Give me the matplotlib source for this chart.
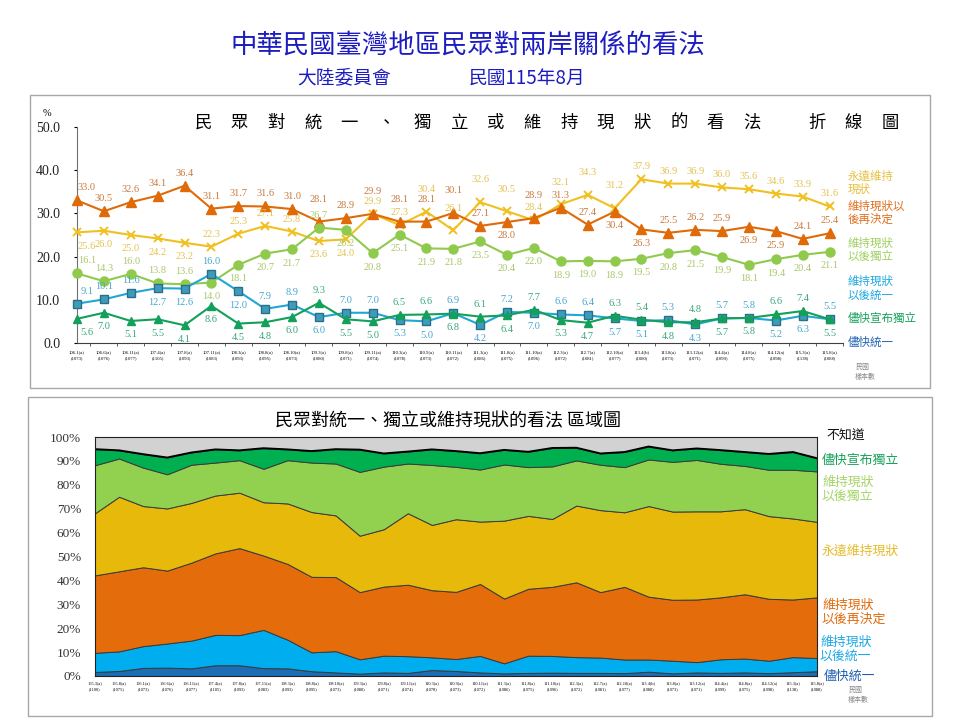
import numpy as np
import matplotlib
matplotlib.use('Agg')
import matplotlib.pyplot as plt
from matplotlib.patches import Rectangle

plt.rcParams['font.family'] = ['Noto Sans CJK TC', 'DejaVu Sans']

# survey rounds used in the line chart
periods = ['106.1(a)', '106.6(a)', '106.11(a)', '107.4(a)', '107.8(a)', '107.11(a)', '108.3(a)',
           '108.8(a)', '108.10(a)', '109.3(a)', '109.8(a)', '109.11(a)', '110.3(a)', '110.9(a)',
           '110.11(a)', '111.3(a)', '111.8(a)', '111.10(a)', '112.3(a)', '112.7(a)', '112.10(a)',
           '113.4(b)', '113.8(a)', '113.12(a)', '114.4(a)', '114.8(a)', '114.12(a)', '115.3(a)',
           '115.8(a)']
samples = [1073, 1076, 1077, 1105, 1093, 1083, 1093, 1095, 1073, 1080, 1071, 1074, 1078, 1073,
           1072, 1086, 1075, 1096, 1072, 1081, 1077, 1080, 1073, 1071, 1099, 1075, 1098, 1138,
           1088]

forever = [25.6, 26.0, 25.0, 24.2, 23.2, 22.3, 25.3, 27.1, 25.8, 23.6, 24.0, 29.9, 27.3, 30.4,
           26.1, 32.6, 30.5, 28.4, 32.1, 34.3, 31.2, 37.9, 36.9, 36.9, 36.0, 35.6, 34.6, 33.9, 31.6]
decide_later = [33.0, 30.5, 32.6, 34.1, 36.4, 31.1, 31.7, 31.6, 31.0, 28.1, 28.9, 29.9, 28.1, 28.1,
                30.1, 27.1, 28.0, 28.9, 31.3, 27.4, 30.4, 26.3, 25.5, 26.2, 25.9, 26.9, 25.9, 24.1, 25.4]
indep_later = [16.1, 14.3, 16.0, 13.8, 13.6, 14.0, 18.1, 20.7, 21.7, 26.7, 26.2, 20.8, 25.1, 21.9,
               21.8, 23.5, 20.4, 22.0, 18.9, 19.0, 18.9, 19.5, 20.8, 21.5, 19.9, 18.1, 19.4, 20.4, 21.1]
unify_later = [9.1, 10.1, 11.6, 12.7, 12.6, 16.0, 12.0, 7.9, 8.9, 6.0, 7.0, 7.0, 5.3, 5.0,
               6.9, 4.2, 7.2, 7.0, 6.6, 6.4, 5.7, 5.1, 5.3, 4.3, 5.7, 5.8, 5.2, 6.3, 5.5]
indep_now = [5.6, 7.0, 5.1, 5.5, 4.1, 8.6, 4.5, 4.8, 6.0, 9.3, 5.5, 5.0, 6.5, 6.6,
             6.8, 6.1, 6.4, 7.7, 5.3, 4.7, 6.3, 5.4, 4.8, 4.8, 5.7, 5.8, 6.6, 7.4, 5.5]
# (not labelled in the line chart)
unify_now = [3.4, 3.5, 3.2, 4.5, 4.5, 3.3, 3.2, 2.0, 1.5, 1.0, 1.5, 1.3, 2.5, 2.1,
             1.5, 1.1, 1.3, 1.4, 1.3, 1.3, 1.2, 1.8, 1.1, 1.5, 1.3, 1.5, 1.2, 1.6, 2.0]

# two older rounds that only appear in the area chart
early_periods = ['105.3(a)', '105.8(a)']
early_samples = [1100, 1075]
early_unify_now = [1.7, 2.1]
early_unify_later = [8.0, 8.2]
early_decide_later = [32.4, 33.5]
early_forever = [26.0, 31.2]
early_indep_later = [20.1, 16.0]
early_indep_now = [6.7, 3.4]

# label placement per point: a = above, A = further above, b = below
pos_forever = 'bbbbbaaaabbaaAAAAaAAAaaaaaaaa'
pos_decide = 'aaaaaaaaaAaAAAAabAaabbaaabbaa'
pos_indep_later = 'aaaaabbbbab' + 'b' * 18
pos_unify_later = 'aaabbabaabaabbababaabbabaabba'
pos_indep_now = 'bbbbbbbbba' + 'bbaaba' + 'babbaa' + 'babbaab'

YEL, ORG, LGR, BLU, GRN = '#f0c020', '#e06a08', '#8fca4c', '#22a6d6', '#12a05a'
LBL = {'y': '#e3c24e', 'o': '#c9783c', 'lg': '#a9c76a', 'b': '#45a6cf', 'g': '#3aa67a'}

fig = plt.figure(figsize=(9.6, 7.2), dpi=100)


def fx(x):
    return x / 960


def fy(y):
    return 1 - y / 720


# headings
fig.text(fx(468), fy(46), '中華民國臺灣地區民眾對兩岸關係的看法', color='#1c1cc0',
         fontsize=19, ha='center', va='center')
fig.text(fx(344), fy(78), '大陸委員會', color='#1c1cc0', fontsize=13.5, ha='center', va='center')
fig.text(fx(527), fy(78), '民國115年8月', color='#1c1cc0', fontsize=13.5, ha='center', va='center')

fig.add_artist(Rectangle((fx(30), fy(388)), 900 / 960, 293 / 720, transform=fig.transFigure,
                         fill=False, ec='#a8a8a8', lw=1))
fig.add_artist(Rectangle((fx(28), fy(716)), 904 / 960, 319 / 720, transform=fig.transFigure,
                         fill=False, ec='#a8a8a8', lw=1))

# ---------------- line chart ----------------
ax1 = fig.add_axes([fx(77), fy(343), (843 - 77) / 960, 216 / 720])
x = np.arange(len(periods))
ax1.set_xlim(0, 28.3)
ax1.set_ylim(0, 50)
for s in ['top', 'right']:
    ax1.spines[s].set_visible(False)
ax1.spines['left'].set_color('#707070')
ax1.spines['bottom'].set_color('#404040')
ax1.set_yticks(np.arange(0, 51, 10))
ax1.set_yticklabels([f'{v:.1f}' for v in np.arange(0, 51, 10)], family='Liberation Serif',
                    fontsize=10, color='#222222')
ax1.tick_params(axis='y', length=2, pad=10)
ax1.set_xticks(x)
ax1.set_xticklabels([f'{p}\n({n})' for p, n in zip(periods, samples)],
                    family='Liberation Serif', fontsize=3.4, linespacing=1.6)
ax1.tick_params(axis='x', length=0, pad=5)
ax1.set_xticks(x + 0.5, minor=True)
ax1.tick_params(axis='x', which='minor', length=2.5, color='#404040')
fig.text(fx(47), fy(113), '%', fontsize=7.5, family='Liberation Serif', ha='center', va='center')

series = [
    (forever, YEL, 'x', 6, None, LBL['y'], pos_forever),
    (decide_later, ORG, '^', 7.5, None, LBL['o'], pos_decide),
    (indep_later, LGR, 'o', 6.5, None, LBL['lg'], pos_indep_later),
    (unify_later, BLU, 's', 6, '#2b6f86', LBL['b'], pos_unify_later),
    (indep_now, GRN, '^', 6, None, LBL['g'], pos_indep_now),
]
offs = {'a': 9, 'A': 16, 'b': -10}
for vals, col, mk, ms, ec, lcol, pos in series:
    mfc = '#3d9cbc' if mk == 's' else col
    ax1.plot(x, vals, color=col, lw=1.5, marker=mk, ms=ms, mfc=mfc,
             mec=ec if ec else col, mew=1.4 if mk == 'x' else 1.0, clip_on=False, zorder=3)
    for i, v in enumerate(vals):
        dx = 7 if i == 0 else 0
        ax1.annotate(f'{v:.1f}', (x[i], v), xytext=(dx, offs[pos[i]]), textcoords='offset points',
                     ha='center', va='center', fontsize=7.5, family='Liberation Serif',
                     color=lcol, zorder=4)

# title spaced characters
for k, ch in enumerate('民眾對統一、獨立或維持現狀的看法'):
    fig.text(fx(203 + 36.6 * k), fy(123), ch, fontsize=12.5, fontweight='medium',
             ha='center', va='center')
for k, ch in enumerate('折線圖'):
    fig.text(fx(817 + 36.6 * k), fy(123), ch, fontsize=12.5, fontweight='medium',
             ha='center', va='center')

legend1 = [('永遠維持\n現狀', 183, '#e6c040'), ('維持現狀以\n後再決定', 213, '#e07020'),
           ('維持現狀\n以後獨立', 250, '#9ed060'), ('維持現狀\n以後統一', 288, '#1ea8e0'),
           ('儘快宣布獨立', 318, '#14a058'), ('儘快統一', 342, '#1f62b4')]
for txt, yy, c in legend1:
    fig.text(fx(848), fy(yy), txt, color=c, fontsize=8.3, va='center', ha='left', linespacing=1.05)
fig.text(fx(855), fy(372), '民國\n樣本數', color='#888888', fontsize=5, va='center', ha='left')

# ---------------- area chart ----------------
ax2 = fig.add_axes([fx(95), fy(676), 722 / 960, 239 / 720])
area_labels = early_periods + periods
area_samples = early_samples + samples
stack = [early_unify_now + unify_now, early_unify_later + unify_later,
         early_decide_later + decide_later, early_forever + forever,
         early_indep_later + indep_later, early_indep_now + indep_now]
acolors = ['#1c6db6', '#00aeef', '#e46c0a', '#e6b90a', '#92d050', '#00b050']
xa = np.arange(len(area_labels))
ax2.set_facecolor('#d2d2d2')
ax2.stackplot(xa, *stack, colors=acolors, edgecolor='#3a3a3a', linewidth=0.7)
ax2.plot(xa, np.sum(stack, axis=0), color='black', lw=1.4)
ax2.set_xlim(0, len(area_labels) - 1)
ax2.set_ylim(0, 100)
for s in ax2.spines.values():
    s.set_color('#222222')
ax2.set_yticks(np.arange(0, 101, 10))
ax2.set_yticklabels([f'{v}%' for v in range(0, 101, 10)], family='Liberation Serif',
                    fontsize=9.5, color='#333333')
ax2.tick_params(axis='y', length=0, pad=10)
ax2.set_xticks(xa)
ax2.set_xticklabels([f'{p}\n({n})' for p, n in zip(area_labels, area_samples)],
                    family='Liberation Serif', fontsize=3.2, linespacing=1.6)
ax2.tick_params(axis='x', length=0, pad=4)

fig.text(fx(448), fy(421), '民眾對統一、獨立或維持現狀的看法 區域圖', fontsize=13,
         ha='center', va='center')
legend2 = [('不知道', 826, 436, '#111111'), ('儘快宣布獨立', 822, 460, '#14a058'),
           ('維持現狀\n以後獨立', 822, 489, '#a6d468'), ('永遠維持現狀', 822, 551, '#e6bd2c'),
           ('維持現狀\n以後再決定', 822, 612, '#e06c10'), ('維持現狀\n以後統一', 820, 649, '#1ea8e6'),
           ('儘快統一', 824, 676, '#1f5fb0')]
for txt, xx, yy, c in legend2:
    fig.text(fx(xx), fy(yy), txt, color=c, fontsize=9.3, va='center', ha='left', linespacing=1.1)
fig.text(fx(848), fy(695), '民國\n樣本數', color='#888888', fontsize=5, va='center', ha='left')

fig.savefig('out.png', dpi=100)
